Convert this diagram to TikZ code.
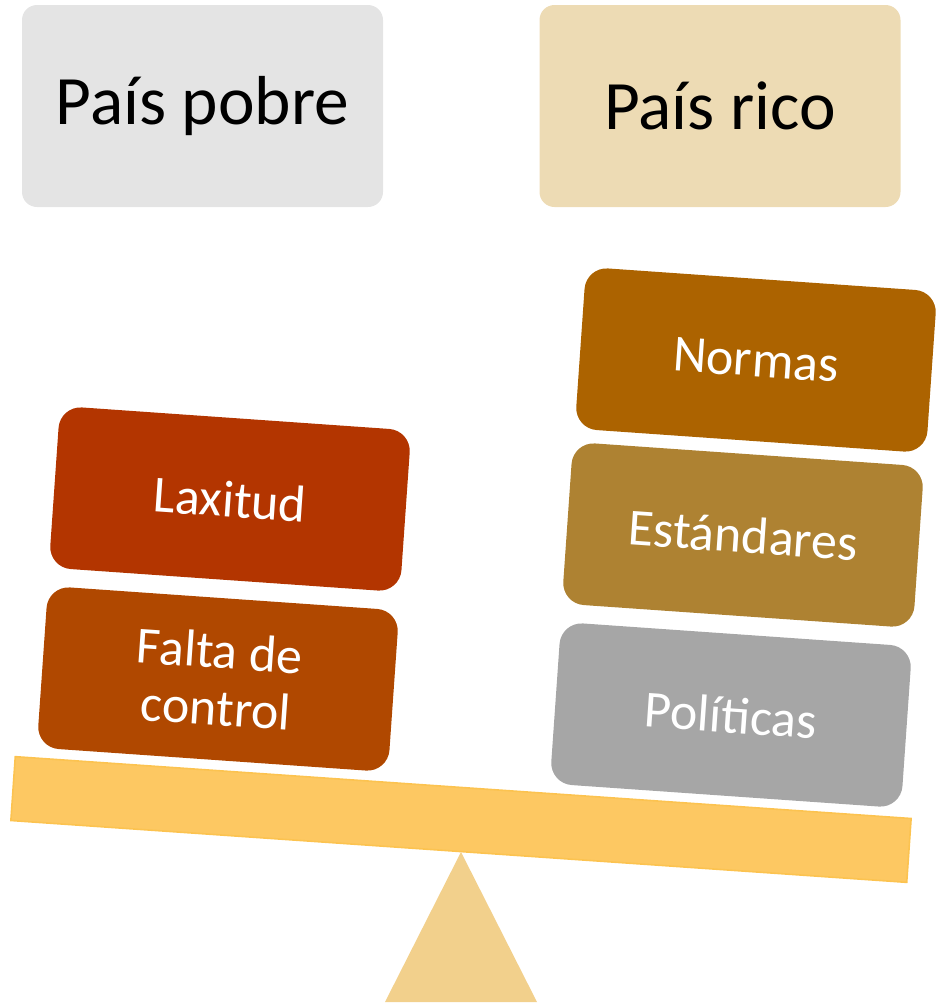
\documentclass[tikz,border=0pt]{standalone}
\usepackage{fontspec}
\setmainfont{Carlito}
\definecolor{pobreC}{HTML}{E4E4E4}
\definecolor{ricoC}{HTML}{EDDBB4}
\definecolor{laxC}{HTML}{B33500}
\definecolor{faltaC}{HTML}{B04800}
\definecolor{normC}{HTML}{AC6300}
\definecolor{estC}{HTML}{AE8232}
\definecolor{polC}{HTML}{A6A6A6}
\definecolor{beamC}{HTML}{FDC862}
\definecolor{beamD}{HTML}{FCC350}
\definecolor{triC}{HTML}{F2D08C}
\tikzset{
  topbox/.style={rounded corners=11.25pt, minimum width=270.75pt, minimum height=151.5pt,
    inner sep=0pt, font=\fontsize{52}{62}\selectfont, text=black},
  weight/.style={rounded corners=16.5pt, minimum width=264pt, minimum height=121.5pt,
    inner sep=0pt, rotate=-4, font=\fontsize{39}{43}\selectfont, text=white, align=center},
}
\begin{document}
\begin{tikzpicture}[x=0.75pt,y=-0.75pt]
\useasboundingbox (0,0) rectangle (949,1008);
\node[topbox, fill=pobreC] (pobre) at (202.5,106) {País pobre};
\node[topbox, fill=ricoC] (rico) at (720,106) {País rico};
% fulcrum
\fill[triC] (461,852) -- (537,1002) -- (385,1002) -- cycle;
% beam
\node[draw=beamD, line width=1.2pt, fill=beamC, minimum width=673.5pt, minimum height=48pt,
  inner sep=0pt, rotate=-3.95] (beam) at (461,819.5) {};
% weights
\node[weight, fill=laxC] (lax) at (230,499) {Laxitud};
\node[weight, fill=faltaC] (falta) at (218,679) {Falta de\\control};
\node[weight, fill=normC] (normas) at (756,360) {Normas};
\node[weight, fill=estC] (est) at (743,535) {Estándares};
\node[weight, fill=polC] (pol) at (731,715) {Políticas};
\end{tikzpicture}
\end{document}
